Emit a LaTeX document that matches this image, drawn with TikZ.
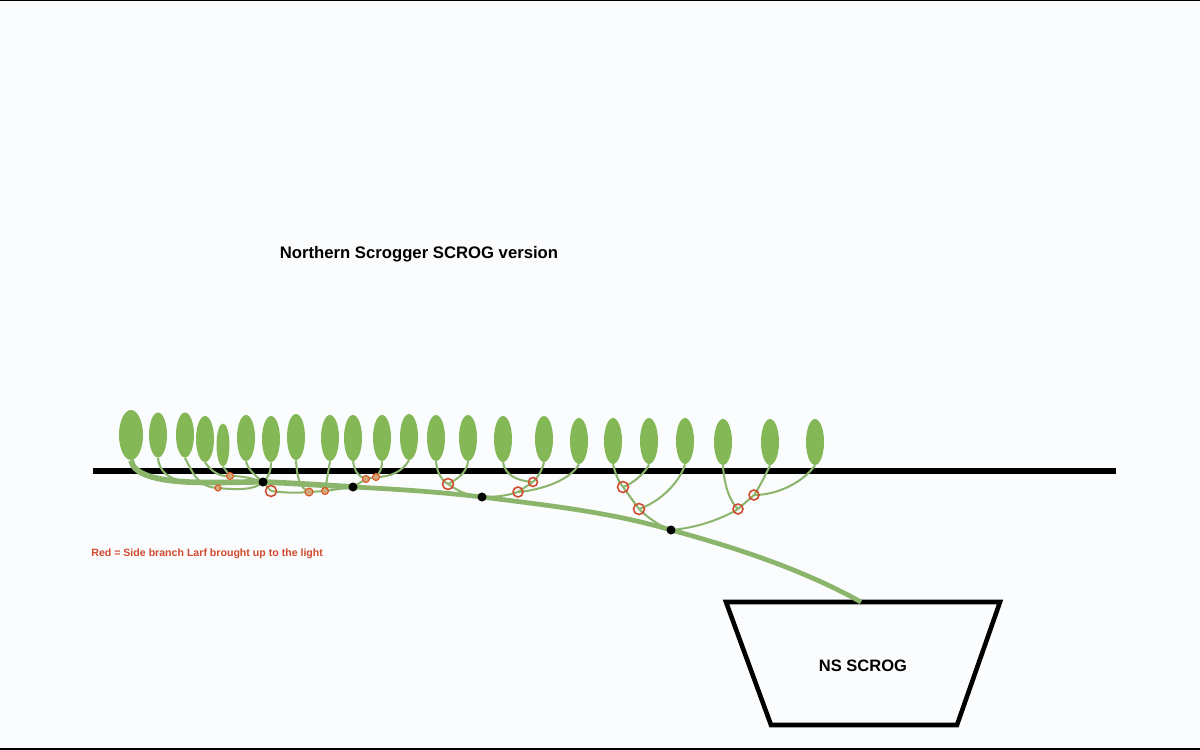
\documentclass[tikz,border=0pt]{standalone}
\usepackage{fontspec}
\setmainfont{Liberation Sans}
\usetikzlibrary{shapes}
\usetikzlibrary{backgrounds}
\definecolor{paper}{HTML}{FBFCFE}
\definecolor{leafgreen}{HTML}{84B755}
\definecolor{stemgreen}{HTML}{8CB56C}
\definecolor{knotred}{HTML}{D04A2E}
\definecolor{knottan}{HTML}{D3A878}
\tikzset{
  leaf/.style={ellipse, fill=leafgreen, inner sep=0pt, minimum width=18*0.02cm, minimum height=46*0.02cm},
  joint/.style={circle, fill=black, inner sep=0pt, minimum size=9*0.02cm},
  knot/.style={circle, draw=knotred, line width=0.9pt, inner sep=0pt, minimum size=#1*0.02cm},
  smallknot/.style={circle, draw=knotred!80!orange, fill=knottan, line width=0.6pt, inner sep=0pt, minimum size=#1*0.02cm},
  stem/.style={draw=stemgreen, line width=1.15pt},
  mainstem/.style={draw=stemgreen, line width=2.7pt},
  heavy/.style={draw=black, line width=2.9pt}
}
\begin{document}
\begin{tikzpicture}[x=0.02cm, y=-0.02cm]
    \useasboundingbox (0,0) rectangle (1200,750);
    % tops above the wire
    \node[leaf, minimum width=24*0.02cm, minimum height=50*0.02cm] (L1) at (131,435) {};
    \node[leaf, minimum height=45*0.02cm] (L3) at (185,435) {};
    \node[leaf, minimum height=45*0.02cm] (L2) at (158,435) {};
    \node[leaf] (L4) at (205,439) {};
    \node[leaf, minimum width=13*0.02cm, minimum height=43*0.02cm] (L5) at (223,445) {};
    \foreach \name/\x/\y in {L6/246/438, L7/271/439, L8/296/437, L9/330/438, L10/353/438,
      L11/382/438, L12/409/437, L13/436/438, L14/468/438, L15/503/439, L16/544/439,
      L17/579/441, L18/613/441, L19/649/441, L20/685/441, L21/723/442, L22/770/442, L23/815/442}
      \node[leaf] (\name) at (\x,\y) {};

    % joints on the main stem
    \foreach \name/\x/\y in {d1/263/482, d2/353/487, d3/482/497, d4/671/530}
      \node[joint] (\name) at (\x,\y) {};

    % red rings
    \node[smallknot=7] (k1) at (230,476) {};
    \node[smallknot=6] (k2) at (218,488) {};
    \node[knot=11] (k3) at (271,491) {};
    \node[smallknot=8] (k4) at (309,492) {};
    \node[smallknot=7] (k5) at (325,491) {};
    \node[smallknot=7] (k6) at (366,479) {};
    \node[smallknot=7] (k7) at (376,477) {};
    \node[knot=11] (k8) at (448,484) {};
    \node[knot=10] (k9) at (518,492) {};
    \node[knot=9] (k10) at (533,482) {};
    \node[knot=11] (k11) at (623,487) {};
    \node[knot=11] (k12) at (639,509) {};
    \node[knot=10] (k13) at (738,509) {};
    \node[knot=10] (k14) at (754,495) {};

    \coordinate (potrim) at (861,602);
    \coordinate (merge) at (200,483);

    \node[font=\bfseries, inner sep=0pt] (title) at (419,254.5) {\fontsize{9.5pt}{11pt}\selectfont Northern Scrogger SCROG version};
    \node[font=\bfseries, inner sep=0pt] (potlabel) at (863,666) {\fontsize{9.4pt}{11pt}\selectfont NS SCROG};
    \node[font=\bfseries, text=knotred, inner sep=0pt, anchor=west] (note) at (91,554) {\fontsize{6.03pt}{7pt}\selectfont Red = Side branch Larf brought up to the light};

    \begin{scope}[on background layer]
      \fill[paper] (0,0) rectangle (1200,750);
      \draw[black, line width=0.9pt] (0,0.5) -- (1200,0.5);
      \draw[black, line width=0.9pt] (0,749) -- (1200,749);
      \draw[heavy] (93,471) -- (1116,471);
      \draw[heavy, line width=2.6pt, line join=miter] (726,602) -- (1000,602) -- (957,725) -- (771,725) -- cycle;

      % main stem
      \draw[mainstem] (potrim) .. controls (800,568) and (730,546) .. (d4.center);
      \draw[mainstem] (d4.center) .. controls (610,512) and (545,505) .. (d3.center);
      \draw[mainstem] (d3.center) .. controls (440,492) and (395,489) .. (d2.center);
      \draw[mainstem, line width=3.2pt] (d2.center) .. controls (320,485) and (290,483) .. (d1.center);
      \draw[mainstem, line width=3.2pt] (d1.center) .. controls (230,481) and (136,490) .. (L1.south);

      % side stems
      \draw[stem] (L2.south) .. controls (160,478) and (178,482) .. (merge);
      \draw[stem] (L3.south) .. controls (195,478) and (200,487) .. (k2.center);
      \draw[stem] (k2.center) .. controls (238,490) and (255,490) .. (d1.center);
      \draw[stem] (L4.south) .. controls (212,472) and (220,477) .. (k1.center);
      \draw[stem] (L5.south) -- (k1.center);
      \draw[stem] (k1.center) .. controls (242,476) and (252,478) .. (d1.center);
      \draw[stem] (L6.south) .. controls (248,470) and (256,476) .. (d1.center);
      \draw[stem] (L7.south) .. controls (271,472) and (268,478) .. (d1.center);
      \draw[stem] (d1.center) -- (k3.center);
      \draw[stem] (k3.center) .. controls (285,493) and (298,493) .. (k4.center);
      \draw[stem] (L8.south) .. controls (297,478) and (300,488) .. (k4.center);
      \draw[stem] (k4.center) -- (k5.center);
      \draw[stem] (L9.south) -- (k5.center);
      \draw[stem] (k5.center) -- (d2.center);
      \draw[stem] (L10.south) .. controls (355,472) and (358,476) .. (k6.center);
      \draw[stem] (k6.center) -- (d2.center);
      \draw[stem] (L11.south) .. controls (382,468) and (380,473) .. (k7.center);
      \draw[stem] (k7.center) -- (k6.center);
      \draw[stem] (L12.south) .. controls (402,472) and (390,477) .. (k7.center);
      \draw[stem] (L13.south) .. controls (437,472) and (441,480) .. (k8.center);
      \draw[stem] (L14.south) .. controls (467,472) and (458,479) .. (k8.center);
      \draw[stem] (k8.center) .. controls (458,491) and (468,496) .. (d3.center);
      \draw[stem] (L15.south) .. controls (505,475) and (517,481) .. (k10.center);
      \draw[stem] (L16.south) .. controls (542,470) and (539,476) .. (k10.center);
      \draw[stem] (k10.center) -- (k9.center);
      \draw[stem] (k9.center) .. controls (506,496) and (495,497) .. (d3.center);
      \draw[stem] (L17.south) .. controls (570,480) and (542,490) .. (k9.center);
      \draw[stem] (L18.south) .. controls (615,472) and (618,481) .. (k11.center);
      \draw[stem] (L19.south) .. controls (646,472) and (634,483) .. (k11.center);
      \draw[stem] (k11.center) -- (k12.center);
      \draw[stem] (L20.south) .. controls (680,482) and (660,502) .. (k12.center);
      \draw[stem] (k12.center) .. controls (648,518) and (660,526) .. (d4.center);
      \draw[stem] (L21.south) .. controls (724,485) and (730,502) .. (k13.center);
      \draw[stem] (L22.south) .. controls (766,474) and (760,486) .. (k14.center);
      \draw[stem] (k14.center) -- (k13.center);
      \draw[stem] (k13.center) .. controls (720,520) and (695,528) .. (d4.center);
      \draw[stem] (L23.south) .. controls (805,480) and (780,495) .. (k14.center);
    \end{scope}
  \end{tikzpicture}
\end{document}
